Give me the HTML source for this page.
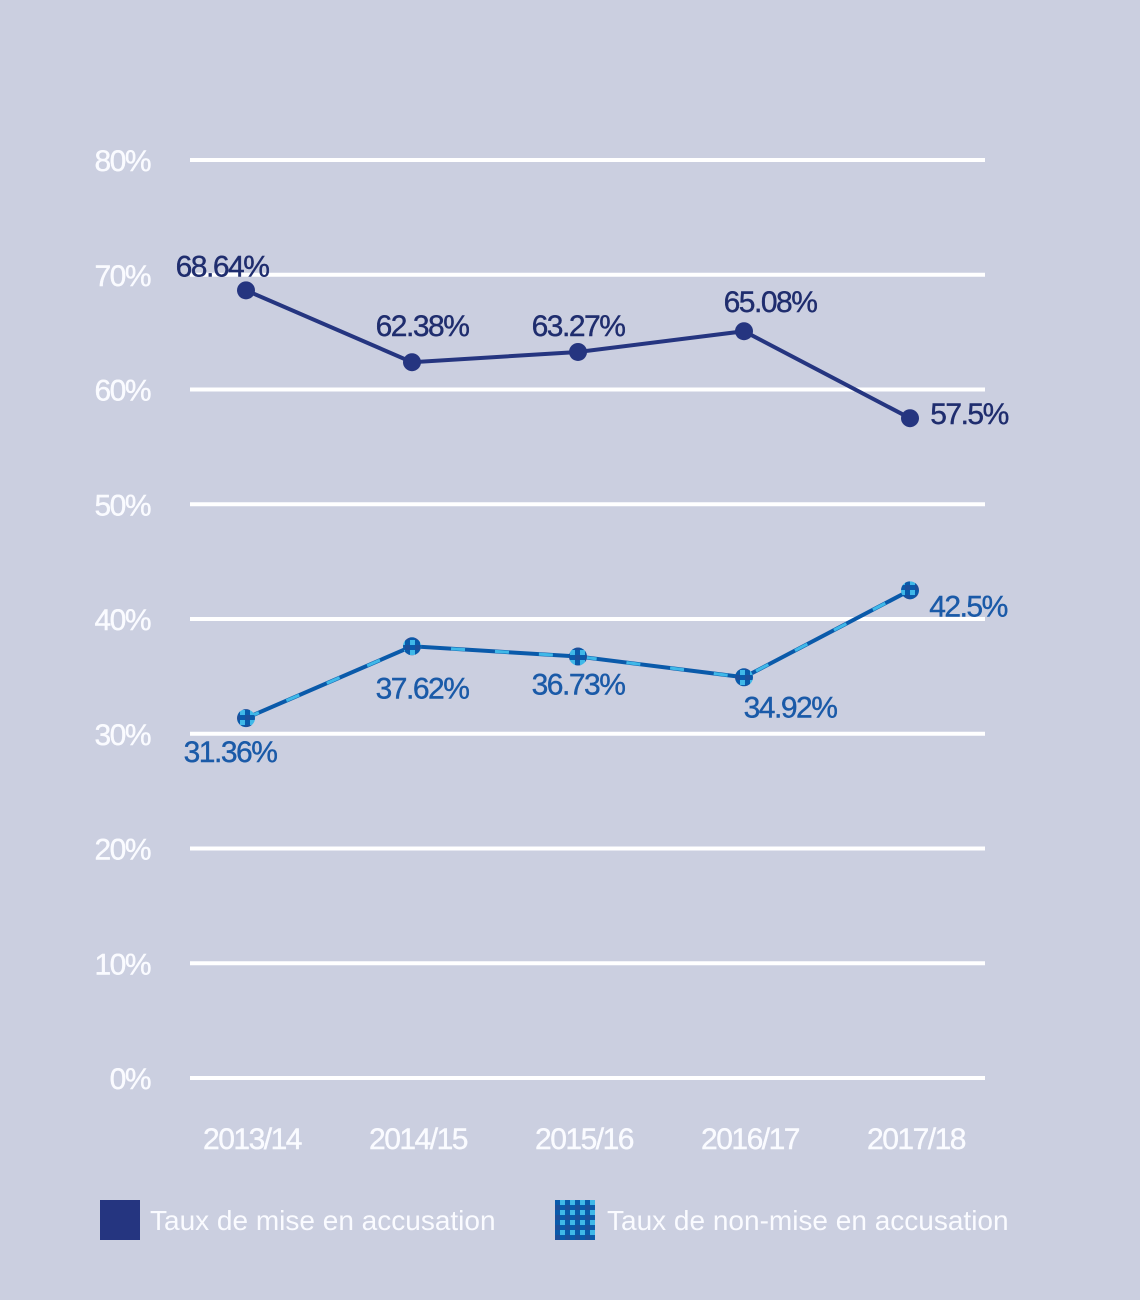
<!DOCTYPE html>
<html><head><meta charset="utf-8"><style>
html,body{margin:0;padding:0;background:#cbcfe0;}
svg{display:block;font-family:"Liberation Sans",sans-serif;}
</style></head><body>
<svg width="1140" height="1300" viewBox="0 0 1140 1300">
<defs>
<pattern id="pat" width="10" height="10" patternUnits="userSpaceOnUse">
<rect width="10" height="10" fill="#0a5aaa"/><rect width="5" height="5" fill="#3fb8e8"/><rect x="5" y="5" width="5" height="5" fill="#1d4f9a"/>
</pattern>
</defs>
<g id="grid"></g>
<g id="yaxis"></g>
<g id="xaxis"></g>
<g id="series"></g>
<g>
<rect x="100" y="1200" width="40" height="40" fill="#253580"/>
<text x="150" y="1230" font-size="28" fill="#fafbff">Taux de mise en accusation</text>
<rect x="555" y="1200" width="40" height="40" fill="url(#pat)"/>
<text x="607" y="1230" font-size="28" fill="#fafbff">Taux de non-mise en accusation</text>
</g>
</svg>
<script>
const categories=["2013/14","2014/15","2015/16","2016/17","2017/18"];
const miseValues=[68.64,62.38,63.27,65.08,57.5];
const nonMiseValues=[31.36,37.62,36.73,34.92,42.5];
const yTicks=[0,10,20,30,40,50,60,70,80];
const NS="http://www.w3.org/2000/svg";
const y=v=>1078-v*11.475;
const x=i=>246+i*166;
function mk(tag,attrs,parent){const e=document.createElementNS(NS,tag);for(const k in attrs)e.setAttribute(k,attrs[k]);parent.appendChild(e);return e;}
const grid=document.getElementById('grid'),ya=document.getElementById('yaxis'),xa=document.getElementById('xaxis'),ser=document.getElementById('series');
yTicks.forEach(t=>{
 const l=mk('line',{x1:190,x2:985,y1:y(t),y2:y(t),stroke:'#ffffff','stroke-width':4},grid);
 
 
 const tx=mk('text',{x:150,y:y(t)+11,'text-anchor':'end','font-size':30,fill:'#fafbff','letter-spacing':'-1.5',stroke:'#fafbff','stroke-width':0.4},ya);
 tx.textContent=t+'%';
 
 
});
categories.forEach((c,i)=>{
 const tx=mk('text',{x:x(i)+6,y:1149,'text-anchor':'middle','font-size':30,fill:'#fafbff','letter-spacing':'-1.5',stroke:'#fafbff','stroke-width':0.4},xa);
 tx.textContent=c;
 
 
});
function pts(v){return v.map((d,i)=>x(i)+','+y(d)).join(' ');}
const l1=mk('polyline',{points:pts(miseValues),fill:'none',stroke:'#253580','stroke-width':4},ser);


const l2=mk('polyline',{points:pts(nonMiseValues),fill:'none',stroke:'#0a5aaa','stroke-width':4},ser);


const l2b=mk('polyline',{points:pts(nonMiseValues),fill:'none',stroke:'#3fb8e8','stroke-width':3,'stroke-dasharray':'14 30'},ser);


const lab1dx=[-24,10,0,26,59],lab1dy=[-14,-26,-16,-19,6];
const lab2dx=[-16,10,0,46,58],lab2dy=[44,52,38,40,26];
miseValues.forEach((v,i)=>{
 const c=mk('circle',{cx:x(i),cy:y(v),r:9,fill:'#253580'},ser);
 
 
 const t=mk('text',{x:x(i)+lab1dx[i],y:y(v)+lab1dy[i],'text-anchor':'middle','font-size':30,fill:'#1f2d6e','letter-spacing':'-1.5',stroke:'#1f2d6e','stroke-width':0.4},ser);
 t.textContent=v+'%';
 
 
});
nonMiseValues.forEach((v,i)=>{
 const c=mk('circle',{cx:x(i),cy:y(v),r:9,fill:'url(#pat)'},ser);
 
 
 const t=mk('text',{x:x(i)+lab2dx[i],y:y(v)+lab2dy[i],'text-anchor':'middle','font-size':30,fill:'#1a5aa8','letter-spacing':'-1.5',stroke:'#1a5aa8','stroke-width':0.4},ser);
 t.textContent=v+'%';
 
 
});
</script>
</body></html>
